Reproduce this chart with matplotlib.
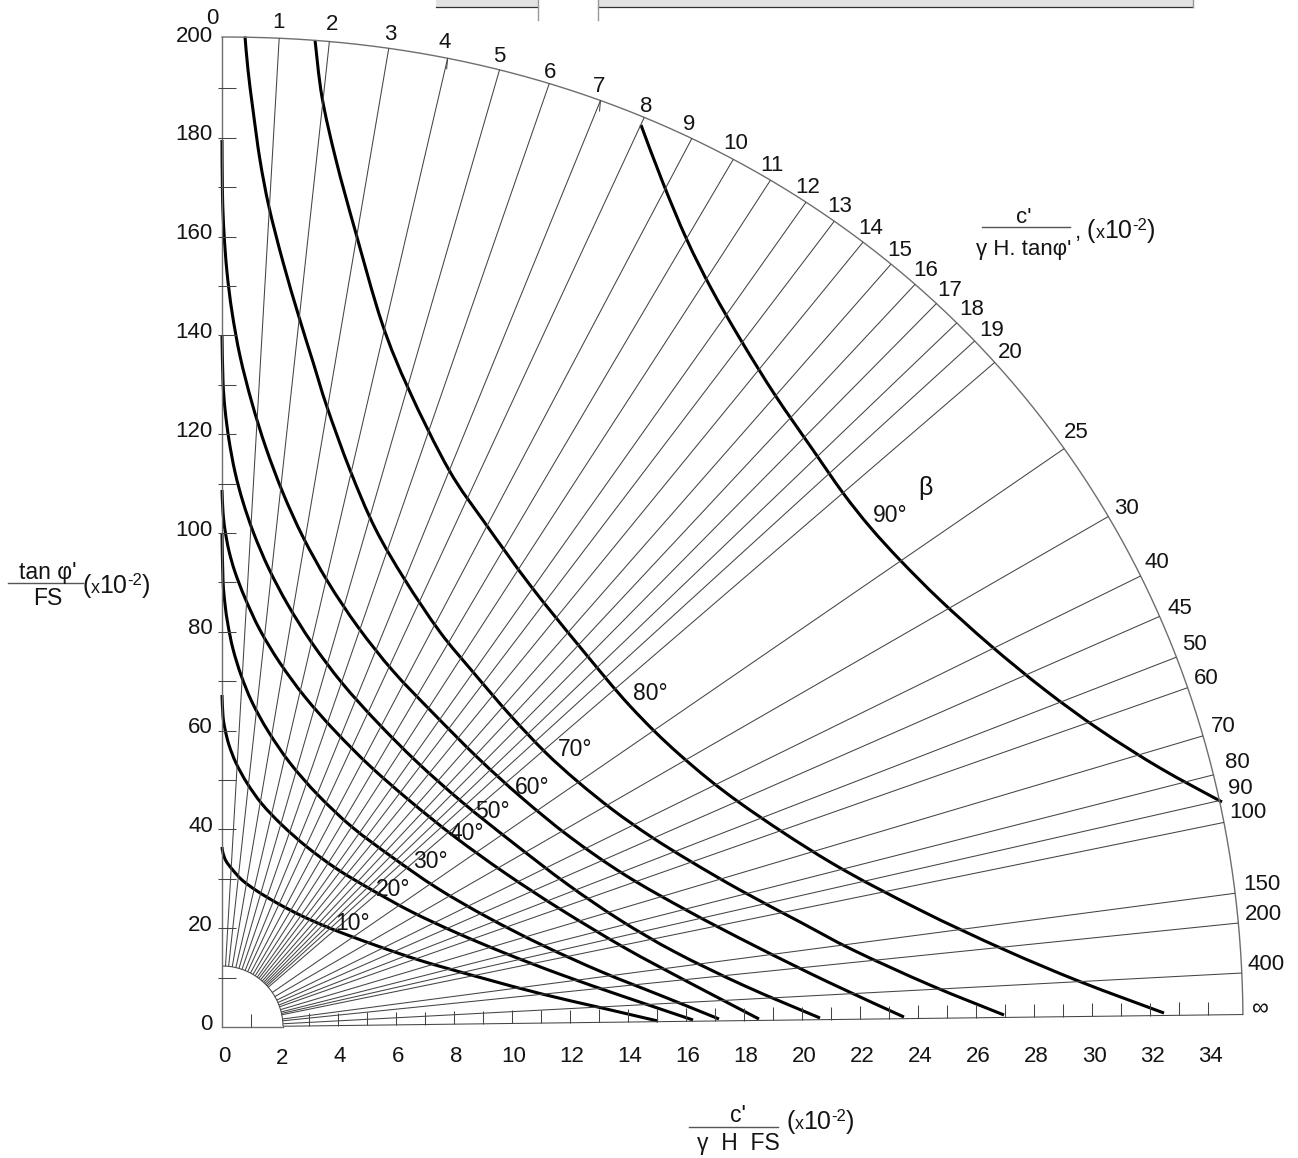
import numpy as np
import matplotlib
matplotlib.use('Agg')
import matplotlib.pyplot as plt
from matplotlib.path import Path
from matplotlib.patches import PathPatch, Rectangle
from matplotlib.lines import Line2D
from matplotlib.transforms import Affine2D

FONT = ['Liberation Sans', 'DejaVu Sans']
plt.rcParams['font.family'] = FONT

# ---------------- data ----------------
y_tick_values = [0, 20, 40, 60, 80, 100, 120, 140, 160, 180, 200]
y_minor_values = list(range(10, 200, 10))
x_tick_values = list(range(0, 35, 2))
x_minor_values = [1] + list(range(3, 35))

radial_labels = ['0', '1', '2', '3', '4', '5', '6', '7', '8', '9', '10', '11', '12', '13',
                 '14', '15', '16', '17', '18', '19', '20', '25', '30', '40', '45', '50',
                 '60', '70', '80', '90', '100', '150', '200', '400', '∞']
# angle of each radial line measured from the vertical axis (degrees)
radial_angle = [0.0, 3.31, 6.22, 9.67, 13.11, 16.17, 19.13, 22.22, 24.9, 27.87, 30.51,
                32.93, 35.3, 37.23, 39.24, 41.25, 43.02, 44.64, 46.22, 47.65, 49.3,
                55.52, 60.06, 63.85, 66.35, 68.82, 70.64, 73.47, 75.73, 77.21, 78.46,
                82.48, 84.16, 86.97, 89.3]

beta_labels = ['10°', '20°', '30°', '40°', '50°', '60°', '70°', '80°', '90°']

b10_x = [0.0, 0.034, 0.138, 0.345, 0.690, 1.207, 1.897, 2.759, 3.793, 5.172, 6.897,
         8.966, 11.034, 13.103, 15.034]
b10_y = [36.44, 35.22, 33.60, 31.98, 29.76, 27.53, 25.10, 22.47, 19.84, 16.80, 13.36,
         9.92, 6.68, 3.85, 1.21]
b20_x = [0.0, 0.034, 0.103, 0.241, 0.483, 0.862, 1.379, 2.069, 2.931, 3.966, 5.172,
         6.552, 8.103, 9.828, 11.724, 13.793, 16.241]
b20_y = [67.21, 62.96, 60.32, 57.09, 53.44, 49.39, 45.14, 40.89, 36.44, 31.98, 27.73,
         23.28, 19.03, 14.78, 10.53, 6.28, 1.42]
b30_x = [0.0, 0.034, 0.103, 0.207, 0.379, 0.655, 1.034, 1.586, 2.345, 3.310, 4.483,
         5.862, 7.414, 9.138, 11.034, 13.103, 15.172, 17.138]
b30_y = [100.0, 90.49, 85.63, 81.38, 76.52, 71.26, 65.79, 59.92, 53.44, 46.96, 40.49,
         34.41, 28.14, 22.27, 16.60, 11.13, 6.28, 1.62]
b40_x = [0.0, 0.034, 0.103, 0.241, 0.448, 0.793, 1.310, 2.0, 2.862, 3.897, 5.103,
         6.483, 8.034, 9.759, 11.655, 13.897, 16.138, 18.517]
b40_y = [108.70, 104.25, 100.61, 96.36, 92.11, 86.84, 80.36, 73.68, 66.80, 59.92,
         52.83, 45.75, 38.46, 31.17, 23.89, 15.99, 8.91, 1.62]
b50_x = [0.0, 0.034, 0.103, 0.241, 0.448, 0.724, 1.103, 1.621, 2.276, 3.103, 4.138,
         5.345, 6.724, 8.276, 10.0, 11.897, 13.724, 15.621, 18.034, 20.621]
b50_y = [140.08, 130.77, 125.10, 118.83, 112.35, 106.28, 99.80, 92.71, 85.43, 77.73,
         69.64, 61.74, 53.64, 45.55, 37.45, 28.95, 21.66, 15.18, 8.30, 1.82]
b60_x = [0.0, 0.017, 0.069, 0.172, 0.345, 0.621, 1.034, 1.517, 2.103, 2.793, 3.655,
         4.690, 5.897, 7.276, 8.828, 10.345, 12.0, 13.897, 16.069, 18.379, 20.897,
         23.517]
b60_y = [179.55, 168.42, 160.73, 152.83, 144.74, 135.83, 126.32, 117.21, 108.10, 99.19,
         90.08, 80.97, 72.06, 63.56, 54.45, 46.36, 38.46, 30.77, 23.48, 16.40, 9.11,
         2.02]
b70_x = [0.793, 0.897, 1.069, 1.310, 1.621, 2.103, 2.655, 3.138, 3.621, 4.414, 5.276,
         6.310, 7.517, 8.655, 9.931, 11.138, 12.241, 13.483, 14.759, 16.138, 17.862,
         19.931, 21.759, 24.414, 26.966]
b70_y = [200.5, 193.72, 185.63, 175.51, 165.99, 154.86, 143.72, 134.62, 125.51, 112.75,
         101.01, 90.49, 79.96, 71.86, 63.16, 55.67, 49.80, 43.93, 38.66, 33.60, 27.73,
         21.26, 15.59, 8.50, 2.43]
b80_x = [3.207, 3.448, 3.931, 4.586, 5.517, 6.448, 7.828, 9.069, 10.621, 12.345, 14.069,
         15.793, 17.862, 20.966, 24.069, 27.0, 29.621, 32.483]
b80_y = [199.80, 188.26, 175.51, 161.34, 142.51, 128.95, 112.75, 102.02, 89.47, 76.92,
         64.98, 55.06, 45.34, 33.40, 23.68, 15.59, 9.11, 2.83]
b90_x = [14.448, 15.207, 16.034, 16.897, 17.931, 19.069, 20.379, 21.414, 22.345, 23.379,
         24.759, 26.483, 28.379, 30.276, 32.345, 34.483]
b90_y = [182.59, 170.85, 159.31, 149.19, 138.66, 127.94, 116.80, 108.10, 101.21, 94.53,
         86.44, 77.33, 68.22, 60.12, 52.43, 45.55]
curves_x = [b10_x, b20_x, b30_x, b40_x, b50_x, b60_x, b70_x, b80_x, b90_x]
curves_y = [b10_y, b20_y, b30_y, b40_y, b50_y, b60_y, b70_y, b80_y, b90_y]

# ---------------- layout ----------------
W, H = 1298, 1158
OX, OY = 222, 1027          # pixel position of the origin
SX, SY = 29.0, 4.94         # pixels per data unit
R_IN = 61                   # inner arc radius (px)
A_OUT, B_OUT, N_OUT = 1021.0, 990.0, 2.07   # outer arc (superellipse, px)
TXT = '#141414'

# label centres of the radial scale (pixels in the picture)
radial_label_px = [(212, 18), (279, 22), (332, 25), (390, 34), (445, 43), (499, 57),
                   (550, 73), (599, 86), (646, 107), (689, 125), (736, 143), (772, 165),
                   (808, 187), (840, 206), (871, 228), (900, 250), (926, 270), (950, 290),
                   (972, 309), (992, 330), (1010, 352), (1076, 432), (1126, 508),
                   (1157, 563), (1180, 608), (1194, 645), (1206, 679), (1223, 727),
                   (1237, 763), (1240, 788), (1248, 813), (1262, 885), (1263, 915),
                   (1266, 965), (1260, 1009)]
beta_label_px = [(353, 923), (393, 890), (430, 862), (467, 833), (492, 811),
                 (532, 787), (575, 750), (650, 693), (890, 515)]

fig = plt.figure(figsize=(W / 100, H / 100), dpi=100)
ax = fig.add_axes([0, 0, 1, 1])
ax.set_xlim(-OX / SX, (W - OX) / SX)
ax.set_ylim(-(H - OY) / SY, OY / SY)
ax.axis('off')
geom = Affine2D().scale(1 / SX, 1 / SY) + ax.transData   # px offsets from origin, y up

THIN = dict(color='#444444', lw=0.75, transform=geom, solid_capstyle='butt')
FRAME = dict(color='#6e6e6e', lw=1.0, transform=geom)


def r_outer(phi):
    c, s = np.abs(np.cos(phi)), np.abs(np.sin(phi))
    return 1.0 / ((c / A_OUT) ** N_OUT + (s / B_OUT) ** N_OUT) ** (1.0 / N_OUT)


# outer arc
phi_inf = np.radians(90 - radial_angle[-1])
ph = np.linspace(phi_inf, np.pi / 2, 400)
ro = r_outer(ph)
ax.plot(ro * np.cos(ph), ro * np.sin(ph), **FRAME)
# inner arc
ph2 = np.linspace(phi_inf, np.pi / 2, 100)
ax.plot(R_IN * np.cos(ph2), R_IN * np.sin(ph2), **THIN)

# axes lines
ax.plot([0, 0], [0, B_OUT], color='#6e6e6e', lw=1.0, transform=geom)
ax.plot([0, R_IN * np.cos(phi_inf)], [0, 0], color='#6e6e6e', lw=1.0, transform=geom)

# radial lines and their labels
for lab, ang, (lx, ly) in zip(radial_labels, radial_angle, radial_label_px):
    phi = np.radians(90 - ang)
    c, s = np.cos(phi), np.sin(phi)
    r1 = r_outer(phi)
    if ang > 0:
        ax.plot([R_IN * c, r1 * c], [R_IN * s, r1 * s], **THIN)
    fs = 16 if lab != '∞' else 17
    ax.text(lx - OX, OY - ly, lab, transform=geom, ha='center', va='center',
            fontsize=fs, color=TXT)

# small ticks on the outer arc
for lab in ['4', '7']:
    ang = radial_angle[radial_labels.index(lab)]
    phi = np.radians(90 - ang)
    r1 = r_outer(phi)
    x0, y0 = r1 * np.cos(phi), r1 * np.sin(phi)
    ax.plot([x0, x0 - 1], [y0, y0 - 11], **THIN)

# bottom ticks along the "infinity" line
t_inf = np.tan(phi_inf)
for xv in x_minor_values:
    xp = xv * SX
    yb = 0 if xp < R_IN else xp * t_inf
    ax.plot([xp, xp], [yb, yb + 13], **THIN)
# left ticks
for yv in y_minor_values:
    yp = yv * SY
    ax.plot([-4, 14], [yp, yp], **THIN)

# tick labels
for yv in y_tick_values:
    ax.text(-9, yv * SY + 3, str(yv), transform=geom, ha='right', va='center',
            fontsize=16, color=TXT)
for xv in x_tick_values:
    dy = -30 if xv != 2 else -32
    ax.text(xv * SX + 2, dy, str(xv), transform=geom, ha='center', va='center',
            fontsize=16, color=TXT)

# beta curves


def smooth_path(px, py):
    P = np.column_stack([px, py])
    n = len(P)
    verts = [P[0]]
    codes = [Path.MOVETO]
    for i in range(n - 1):
        p0 = P[max(i - 1, 0)]
        p1 = P[i]
        p2 = P[i + 1]
        p3 = P[min(i + 2, n - 1)]
        c1 = p1 + (p2 - p0) / 6.0
        c2 = p2 - (p3 - p1) / 6.0
        verts += [c1, c2, p2]
        codes += [Path.CURVE4] * 3
    return Path(verts, codes)


for cx, cy in zip(curves_x, curves_y):
    px = np.array(cx) * SX
    py = np.array(cy) * SY
    ax.add_patch(PathPatch(smooth_path(px, py), fill=False, lw=2.2, ec='black',
                           transform=geom, capstyle='butt', joinstyle='round'))

for lab, (lx, ly) in zip(beta_labels, beta_label_px):
    ax.text(lx - OX, OY - ly, lab, transform=geom, ha='center', va='center',
            fontsize=16.5, color=TXT)
ax.text(925 - OX, OY - 488, 'β', transform=geom, ha='center', va='center',
        fontsize=18, color=TXT)

# ---------------- axis titles ----------------


def fxy(x, y):
    return x / W, 1 - y / H


renderer = fig.canvas.get_renderer()


def rich(x, ybase, pieces):
    cur = x
    for txt, size, dy in pieces:
        t = fig.text(*fxy(cur, ybase - dy), txt, fontsize=size, ha='left', va='baseline',
                     color=TXT)
        bb = t.get_window_extent(renderer)
        cur += bb.width


def frac(xc, num, num_base, den, den_base, x0, x1, yline, size=16.5):
    fig.text(*fxy(xc, num_base), num, fontsize=size, ha='center', va='baseline', color=TXT)
    fig.text(*fxy(xc, den_base), den, fontsize=size, ha='center', va='baseline', color=TXT)
    fig.add_artist(Line2D([x0 / W, x1 / W], [1 - yline / H, 1 - yline / H],
                          color='#555555', lw=1.0, transform=fig.transFigure))


exp_pieces = [('(', 18, 0), ('x', 13, 0), ('10', 18, 0), ('-2', 12, 8), (')', 18, 0)]

frac(48, "tan φ'", 579, 'FS', 605, 8, 83, 583)
rich(82, 593, exp_pieces)

frac(738, "c'", 1122, 'γ  H  FS', 1150, 689, 778, 1127)
rich(786, 1129, exp_pieces)

frac(1024, "c'", 223, "γ H. tanφ'", 255, 982, 1070, 227, size=16)
rich(1075, 238, [(',', 16, 0)])
rich(1087, 238, exp_pieces)

# ---------------- top strip remnant ----------------
for x0, x1 in [(436, 538), (598, 1193)]:
    fig.add_artist(Rectangle((x0 / W, 1 - 7 / H), (x1 - x0) / W, 7 / H,
                             transform=fig.transFigure, fc='#e3e3e3', ec='none'))
    fig.add_artist(Line2D([x0 / W, x1 / W], [1 - 7 / H, 1 - 7 / H], color='#333333',
                          lw=0.9, transform=fig.transFigure))
for xv in [538, 598]:
    fig.add_artist(Line2D([xv / W, xv / W], [1, 1 - 20 / H], color='#999999', lw=1.0,
                          transform=fig.transFigure))
fig.add_artist(Line2D([1193 / W, 1193 / W], [1, 1 - 7 / H], color='#999999', lw=1.0,
                      transform=fig.transFigure))

fig.savefig('out.png', dpi=100)
